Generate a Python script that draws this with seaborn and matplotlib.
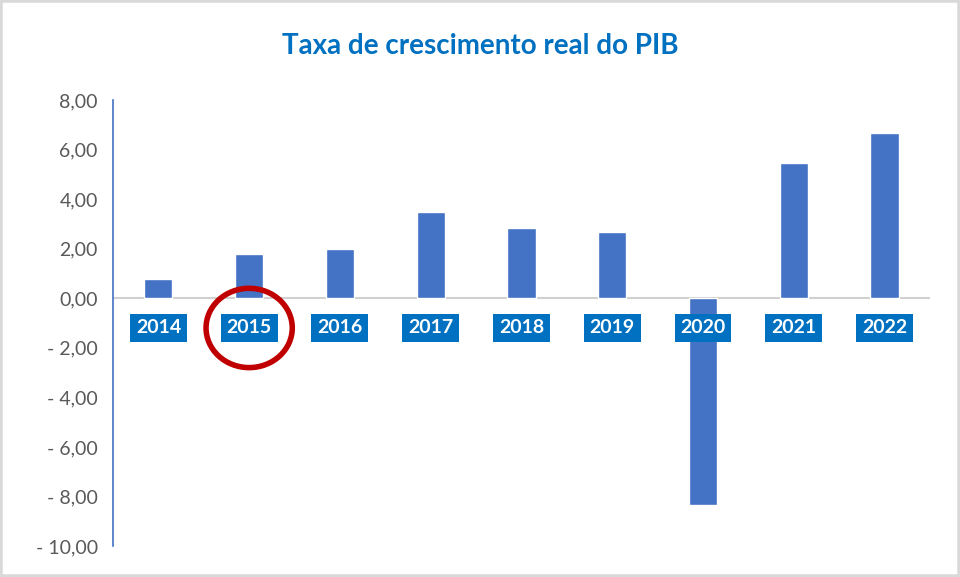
import pandas as pd
import matplotlib
matplotlib.use("Agg")
import matplotlib.pyplot as plt
import seaborn as sns
from matplotlib.patches import Ellipse, Rectangle

anos = ["2014", "2015", "2016", "2017", "2018", "2019", "2020", "2021", "2022"]
taxa = [0.77, 1.77, 1.98, 3.48, 2.83, 2.66, -8.33, 5.47, 6.68]
yticks = [8, 6, 4, 2, 0, -2, -4, -6, -8, -10]
ano_destacado = "2015"

sns.set_theme(style="white")
plt.rcParams["font.family"] = ["Lato", "DejaVu Sans"]

df = pd.DataFrame({"ano": anos, "taxa": taxa})

fig = plt.figure(figsize=(9.6, 5.77), dpi=100)
fig.patches.append(Rectangle((0, 0), 1, 1, transform=fig.transFigure,
                             fill=False, edgecolor="#d9d9d9", linewidth=4))
ax = fig.add_axes([0.1177, 0.0537, 0.851, 0.773])

sns.barplot(data=df, x="ano", y="taxa", color="#4472C4", width=0.31,
            saturation=1, ax=ax)

ax.set_xlim(-0.5, len(anos) - 0.5)
ax.set_ylim(-10, 8)
ax.set_yticks(yticks)


def fmt(v):
    s = f"{abs(v):.2f}".replace(".", ",")
    return s if v >= 0 else "- " + s


ax.set_yticklabels([fmt(v) for v in yticks], color="#595959", fontsize=14)
ax.tick_params(axis="y", direction="out", length=5, width=1.2, color="#4472C4", pad=6)
ax.set_xticks([])
ax.set_xlabel("")
ax.set_ylabel("")

for s in ["top", "right", "bottom"]:
    ax.spines[s].set_visible(False)
ax.spines["left"].set_color("#4472C4")
ax.spines["left"].set_linewidth(1.2)
ax.axhline(0, color="#d0d0d0", linewidth=1.5, zorder=0)

for i, a in enumerate(anos):
    ax.text(i, -1.2, a, ha="center", va="center", color="white",
            fontsize=14, fontweight="bold",
            bbox=dict(boxstyle="square,pad=0.3", facecolor="#0070C0", edgecolor="none"))

i = anos.index(ano_destacado)
ax.add_patch(Ellipse((i, -1.2), 0.95, 3.2, fill=False, edgecolor="#C00000",
                     linewidth=4, zorder=5))

fig.text(0.5, 0.92, "Taxa de crescimento real do PIB", ha="center", va="center",
         color="#0070C0", fontsize=20, fontweight="bold")

fig.savefig("out.png", dpi=100)
